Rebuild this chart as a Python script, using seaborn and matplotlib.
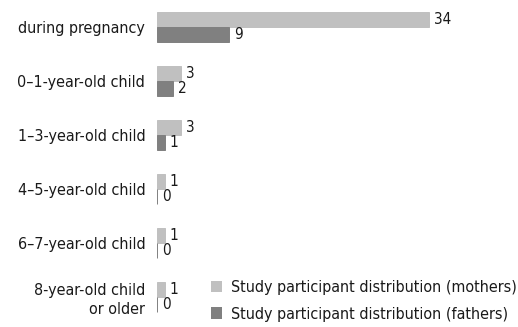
import matplotlib
matplotlib.use("Agg")
import matplotlib.pyplot as plt
import seaborn as sns
import pandas as pd
from matplotlib.patches import Patch

categories = [
    "during pregnancy",
    "0\u20131-year-old child",
    "1\u20133-year-old child",
    "4\u20135-year-old child",
    "6\u20137-year-old child",
    "8-year-old child\nor older",
]
mothers = [34, 3, 3, 1, 1, 1]
fathers = [9, 2, 1, 0, 0, 0]
series = [
    "Study participant distribution (mothers)",
    "Study participant distribution (fathers)",
]
colors = ["#c0c0c0", "#808080"]

df = pd.DataFrame({
    "stage": categories * 2,
    "count": mothers + fathers,
    "group": [series[0]] * len(categories) + [series[1]] * len(categories),
})

sns.set_theme(style="white")
plt.rcParams["font.family"] = ["DejaVu Sans"]
plt.rcParams["font.stretch"] = "condensed"
text_color = "#1a1a1a"

W, H, DPI = 518, 327, 100
fig = plt.figure(figsize=(W / DPI, H / DPI), dpi=DPI)
ax = fig.add_axes([157 / W, 3 / H, (W - 157) / W, 324 / H])

sns.barplot(
    data=df, y="stage", x="count", hue="group", orient="h",
    palette=colors, width=0.56, gap=0, ax=ax, legend=False,
    edgecolor=None, linewidth=0,
)
for container, col in zip(ax.containers, colors):
    for bar in container:
        bar.set_edgecolor(col)
        bar.set_linewidth(0.7)
    ax.bar_label(container, padding=3.5, fontsize=11, color=text_color,
                 fontstretch="condensed")

ax.set_xlim(0, (W - 157) / 8)
ax.set_ylim(5.5, -0.5)
ax.set_xlabel("")
ax.set_ylabel("")
ax.set_xticks([])
ax.tick_params(axis="y", length=0, pad=8.5, labelsize=11.5, labelcolor=text_color)
for lbl in ax.get_yticklabels():
    lbl.set_horizontalalignment("right")
    lbl.set_fontstretch("condensed")
    lbl.set_linespacing(1.3)
sns.despine(ax=ax, left=True, bottom=True, top=True, right=True)

handles = [Patch(facecolor=c, edgecolor="none") for c in colors]
fig.legend(
    handles, series, loc="upper left",
    bbox_to_anchor=(211 / W, 1 - 280 / H), bbox_transform=fig.transFigure,
    frameon=False, handlelength=0.7, handleheight=0.7,
    handletextpad=0.58, labelspacing=0.72, borderaxespad=0, borderpad=0,
    labelcolor=text_color, prop={"stretch": "condensed", "size": 11.5},
)

fig.savefig("out.png", dpi=DPI)
